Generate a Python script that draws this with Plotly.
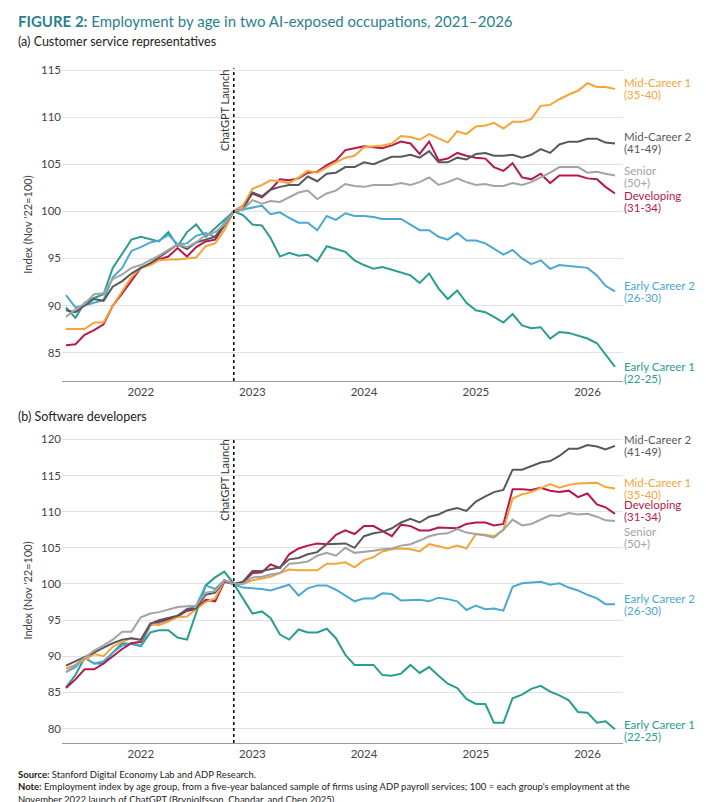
import pandas as pd
import plotly.graph_objects as go
from plotly.subplots import make_subplots

months = pd.date_range("2021-05-01", "2026-04-01", freq="MS")
launch = "2022-11-01"

groups = ["Early Career 1", "Early Career 2", "Developing", "Mid-Career 1", "Mid-Career 2", "Senior"]
ages = ["(22-25)", "(26-30)", "(31-34)", "(35-40)", "(41-49)", "(50+)"]
colors = ["#2A9D8F", "#4BA8D1", "#B5194B", "#F5A43A", "#58585C", "#A3A3A3"]

# (a) Customer service representatives
cs_ec1 = [89.8, 88.7, 90.3, 90.8, 91.2, 94.0, 95.5, 97.0, 97.3, 97.0, 96.8, 97.8, 96.3, 97.8, 98.6, 97.3, 98.2, 99.0, 100, 99.6,
          98.6, 98.5, 97.2, 95.2, 95.6, 95.3, 95.4, 94.7, 96.3, 96.0, 95.7, 94.8, 94.3, 93.9, 94.1, 93.8, 93.5, 93.2, 92.4, 93.4,
          91.8, 90.7, 91.6, 90.3, 89.5, 89.3, 88.8, 88.2, 89.1, 87.9, 87.6, 87.7, 86.5, 87.2, 87.1, 86.8, 86.5, 86.0, 84.8, 83.5]
cs_ec2 = [91.1, 89.8, 90.0, 90.3, 90.6, 93.0, 94.0, 95.8, 96.2, 96.7, 96.9, 97.5, 96.5, 96.6, 97.4, 97.7, 97.3, 98.8, 100, 100.2,
          100.4, 100.6, 99.7, 99.9, 99.3, 98.8, 98.8, 98.0, 99.5, 99.1, 99.8, 99.5, 99.5, 99.4, 99.2, 99.2, 99.2, 98.6, 98.0, 98.0,
          97.3, 97.0, 97.7, 96.9, 96.9, 96.6, 96.0, 95.4, 95.9, 95.0, 94.4, 94.8, 93.9, 94.3, 94.2, 94.1, 94.0, 93.2, 92.1, 91.5]
cs_dev = [85.8, 85.9, 86.9, 87.4, 88.0, 90.0, 91.3, 92.6, 94.0, 94.4, 94.9, 95.2, 96.1, 95.2, 96.2, 96.8, 97.0, 98.5, 100, 100.6,
          101.9, 101.5, 102.3, 103.4, 103.3, 103.5, 104.1, 104.2, 104.9, 105.4, 106.5, 106.7, 106.9, 106.8, 106.7, 107.0, 107.4, 107.2, 106.1, 107.4,
          105.4, 105.6, 106.2, 105.9, 105.7, 105.6, 104.7, 104.3, 105.1, 103.6, 103.4, 104.0, 103.0, 103.8, 103.8, 103.8, 103.5, 103.4, 102.6, 101.9]
cs_mc1 = [87.5, 87.5, 87.5, 88.2, 88.2, 90.0, 91.5, 93.0, 94.0, 94.3, 94.8, 94.9, 94.9, 95.0, 95.1, 96.3, 96.6, 98.0, 100, 100.6,
          102.4, 102.8, 103.3, 103.2, 103.0, 103.6, 104.3, 104.1, 104.7, 105.2, 105.7, 105.9, 106.8, 106.9, 107.0, 107.2, 108.0, 107.9, 107.6, 108.2,
          107.7, 107.3, 108.5, 108.2, 109.0, 109.1, 109.4, 108.8, 109.5, 109.5, 109.8, 111.2, 111.3, 111.9, 112.4, 112.8, 113.6, 113.2, 113.2, 113.0]
cs_mc2 = [89.5, 89.3, 90.0, 90.7, 90.5, 92.0, 92.6, 93.4, 94.0, 94.5, 95.1, 95.8, 96.5, 96.0, 96.7, 97.0, 97.3, 98.5, 100, 100.2,
          102.0, 101.6, 102.3, 102.6, 102.8, 102.8, 103.7, 103.2, 104.0, 104.1, 104.7, 104.7, 105.2, 105.0, 105.4, 105.8, 105.8, 106.0, 105.7, 106.4,
          105.2, 105.2, 105.7, 105.5, 106.1, 106.2, 105.9, 105.9, 106.0, 105.7, 106.0, 106.6, 106.2, 107.1, 107.4, 107.4, 107.7, 107.7, 107.3, 107.2]
cs_sen = [88.8, 89.6, 90.2, 91.2, 91.3, 92.8, 93.3, 94.0, 94.3, 94.8, 95.3, 95.9, 96.5, 96.2, 96.7, 97.5, 97.8, 98.6, 100, 100.2,
          101.2, 100.8, 101.1, 101.0, 101.5, 102.0, 102.2, 101.3, 101.9, 102.2, 102.9, 102.7, 102.6, 102.8, 102.8, 102.8, 103.0, 102.8, 103.1, 103.6,
          102.8, 103.1, 103.5, 103.1, 102.8, 102.9, 102.7, 102.7, 103.0, 102.8, 103.1, 103.6, 104.1, 104.7, 104.7, 104.7, 104.1, 104.2, 104.0, 103.8]

# (b) Software developers
sw_ec1 = [85.7, 87.4, 89.8, 89.0, 89.0, 90.5, 91.8, 91.7, 91.4, 93.3, 93.6, 93.6, 92.6, 92.3, 96.0, 99.8, 100.9, 101.7, 100, 98.0,
          95.9, 96.2, 95.3, 93.0, 92.3, 93.7, 93.3, 93.3, 93.8, 92.5, 90.2, 88.8, 88.8, 88.8, 87.4, 87.3, 87.6, 88.8, 87.7, 88.5,
          87.3, 86.2, 85.6, 84.1, 83.4, 83.4, 80.8, 80.8, 84.2, 84.7, 85.5, 85.9, 85.1, 84.6, 83.9, 82.3, 82.2, 80.8, 81.0, 79.9]
sw_ec2 = [87.8, 88.5, 89.8, 89.0, 89.3, 90.5, 91.5, 91.8, 91.5, 94.3, 94.6, 95.0, 95.6, 96.5, 97.0, 99.8, 99.3, 100.5, 100, 99.5,
          99.4, 99.3, 99.1, 99.5, 99.9, 98.4, 99.4, 99.8, 99.8, 99.2, 98.4, 97.6, 98.0, 98.0, 98.7, 98.6, 97.7, 97.8, 97.8, 97.6,
          98.1, 97.9, 97.6, 96.4, 97.0, 96.5, 96.6, 96.3, 99.6, 100.1, 100.2, 100.3, 99.9, 100.1, 99.5, 99.1, 98.5, 98.0, 97.2, 97.2]
sw_dev = [85.6, 86.8, 88.2, 88.2, 89.0, 90.0, 91.0, 91.8, 92.0, 94.5, 94.8, 95.2, 95.5, 96.3, 96.5, 97.8, 97.6, 100.3, 100, 100.2,
          101.5, 101.6, 102.7, 102.2, 104.1, 104.9, 105.3, 105.6, 105.5, 106.8, 107.4, 106.9, 108.0, 108.0, 107.3, 106.6, 108.2, 108.0, 107.4, 107.4,
          107.8, 107.7, 107.7, 108.3, 108.5, 108.5, 108.1, 108.3, 113.1, 113.1, 113.0, 113.3, 112.9, 112.7, 112.9, 112.0, 112.5, 111.0, 110.6, 109.7]
sw_mc1 = [88.3, 88.8, 89.5, 90.3, 90.0, 91.3, 92.0, 92.5, 92.2, 94.5, 94.3, 94.8, 95.4, 95.5, 96.5, 97.5, 98.0, 100.5, 100, 100.0,
          100.5, 100.8, 101.0, 101.5, 102.0, 101.9, 101.9, 101.9, 102.8, 102.8, 103.0, 102.3, 103.3, 103.7, 104.5, 104.8, 104.9, 104.8, 104.5, 105.5,
          105.2, 104.9, 105.3, 104.9, 106.9, 106.8, 106.6, 107.5, 111.8, 112.4, 112.7, 113.3, 113.8, 113.3, 113.7, 113.9, 114.0, 114.0, 113.4, 113.2]
sw_mc2 = [88.7, 89.3, 89.8, 90.5, 91.2, 91.8, 92.3, 92.5, 92.3, 94.5, 95.0, 95.3, 95.6, 96.5, 96.6, 98.5, 98.8, 100.5, 100, 100.3,
          101.8, 101.8, 102.0, 102.3, 103.4, 103.6, 104.1, 104.4, 105.5, 105.5, 105.6, 105.0, 106.6, 107.0, 107.2, 107.7, 108.5, 109.0, 108.5, 109.3,
          109.6, 110.2, 110.5, 110.1, 111.4, 112.1, 112.7, 113.0, 115.8, 115.8, 116.3, 116.8, 117.0, 117.7, 118.7, 118.7, 119.2, 119.0, 118.6, 119.1]
sw_sen = [87.8, 88.8, 89.8, 90.8, 91.5, 92.3, 93.4, 93.4, 95.4, 95.9, 96.1, 96.5, 96.8, 96.9, 97.0, 98.8, 99.0, 100.5, 100, 100.0,
          100.9, 101.0, 101.3, 101.5, 102.8, 102.9, 103.1, 103.9, 104.3, 103.9, 105.0, 104.3, 104.4, 104.6, 104.8, 104.9, 105.3, 105.5, 106.0, 106.6,
          106.9, 107.0, 107.6, 107.1, 106.9, 106.7, 106.4, 107.5, 108.9, 108.1, 108.3, 108.9, 109.5, 109.4, 109.8, 109.6, 109.7, 109.3, 108.8, 108.7]

cs_series = [cs_ec1, cs_ec2, cs_dev, cs_mc1, cs_mc2, cs_sen]
sw_series = [sw_ec1, sw_ec2, sw_dev, sw_mc1, sw_mc2, sw_sen]
# where each end label sits (data units)
cs_label_y = [82.9, 91.5, 101.0, 113.0, 107.3, 103.7]
sw_label_y = [79.8, 97.2, 110.1, 113.2, 119.1, 106.4]

FONT = "Lato"
fig = make_subplots(rows=2, cols=1)
fig.update_layout(
    width=706, height=802, margin=dict(l=0, r=0, t=0, b=0),
    paper_bgcolor="white", plot_bgcolor="white", showlegend=False,
    font=dict(family=FONT, size=12, color="#333"),
    xaxis=dict(domain=[0.0765, 0.871], automargin=False), xaxis2=dict(domain=[0.0765, 0.871], automargin=False),
    yaxis=dict(domain=[0.535, 0.925], range=[82, 115.2], automargin=False),
    yaxis2=dict(domain=[0.0835, 0.464], range=[78, 120.2], automargin=False),
)

for row, series, label_y, ticks in [(1, cs_series, cs_label_y, list(range(85, 116, 5))),
                                     (2, sw_series, sw_label_y, list(range(80, 121, 5)))]:
    xref = "x" if row == 1 else "x2"
    yref = "y" if row == 1 else "y2"
    for name, age, col, vals, ly in zip(groups, ages, colors, series, label_y):
        fig.add_trace(go.Scatter(x=months, y=vals, mode="lines", line=dict(color=col, width=2),
                                 name=name), row=row, col=1)
        for txt, shift in [(name, 6), (age, -6)]:
            fig.add_annotation(x=months[-1], y=ly, xref=xref, yref=yref, text=txt,
                               showarrow=False, xanchor="left", xshift=7, yshift=shift,
                               font=dict(color=col, size=11.5, family=FONT))
    fig.update_xaxes(range=["2021-04-18", "2026-04-27"], tickvals=["2022-01-01", "2023-01-01", "2024-01-01",
                     "2025-01-01", "2026-01-01"], tickformat="%Y", showgrid=False, showline=True,
                     linecolor="#999", linewidth=1, ticks="", tickfont=dict(size=11.5, color="#444"),
                     row=row, col=1)
    fig.update_yaxes(tickvals=ticks, showgrid=True, gridcolor="#E2E2E2", zeroline=False,
                     tickfont=dict(size=11.5, color="#444"), ticks="",
                     title=dict(text="Index (Nov '22=100)", font=dict(size=11, color="#444"), standoff=6),
                     row=row, col=1)
    fig.add_vline(x=launch, line=dict(color="black", width=1.5, dash="dot"), row=row, col=1)
    fig.add_annotation(x=launch, y=1, xref=xref, yref=yref + " domain",
                       text="ChatGPT Launch", textangle=-90, showarrow=False, xanchor="right", yanchor="top",
                       xshift=-1, font=dict(size=11, color="#333"))

fig.add_annotation(x=0.012, y=0.998, xref="paper", yref="paper", xanchor="left", yanchor="top", showarrow=False,
                   text="<b>FIGURE 2:</b> Employment by age in two AI-exposed occupations, 2021–2026",
                   font=dict(size=15, color="#2B7F8C", family=FONT))
fig.add_annotation(x=0.012, y=0.970, xref="paper", yref="paper", xanchor="left", yanchor="top", showarrow=False,
                   text="(a) Customer service representatives", font=dict(size=12.5, color="#222", family=FONT))
fig.add_annotation(x=0.012, y=0.503, xref="paper", yref="paper", xanchor="left", yanchor="top", showarrow=False,
                   text="(b) Software developers", font=dict(size=12.5, color="#222", family=FONT))
fig.add_annotation(x=0.012, y=0.054, xref="paper", yref="paper", xanchor="left", yanchor="top", showarrow=False,
                   align="left",
                   text="<b>Source:</b> Stanford Digital Economy Lab and ADP Research.<br>"
                        "<b>Note:</b> Employment index by age group, from a five-year balanced sample of firms using ADP payroll services; 100 = each group's employment at the<br>"
                        "November 2022 launch of ChatGPT (Brynjolfsson, Chandar, and Chen 2025).",
                   font=dict(size=9.5, color="#222", family=FONT))

fig.write_html("out.html")
